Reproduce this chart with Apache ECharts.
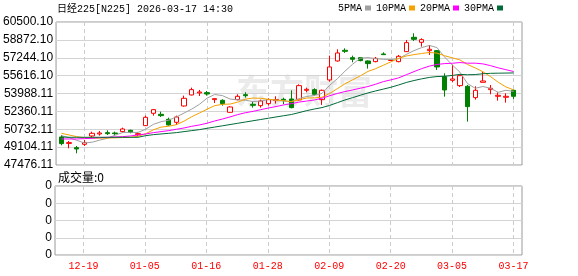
<!DOCTYPE html>
<html><head><meta charset="utf-8">
<script src="https://cdn.jsdelivr.net/npm/echarts@6/dist/echarts.min.js"></script>
<style>html,body{margin:0;padding:0;background:#fff}#c{width:578px;height:276px}</style>
</head><body><div id="c"></div>
<script>
const dates = ['12-16','12-17','12-18','12-19','12-22','12-23','12-24','12-25','12-26','12-29','12-30',
  '01-05','01-06','01-07','01-08','01-09','01-13','01-14','01-15','01-16','01-19','01-20','01-21','01-22','01-23','01-26','01-27','01-28','01-29','01-30',
  '02-02','02-03','02-04','02-05','02-06','02-09','02-10','02-12','02-13','02-16','02-17','02-18','02-19','02-20','02-24','02-25','02-26','02-27',
  '03-02','03-03','03-04','03-05','03-06','03-09','03-10','03-11','03-12','03-13','03-16','03-17'];
const tickLabels = ['12-19','01-05','01-16','01-28','02-09','02-20','03-05','03-17'];
const openV = [50029,49440,49058,49361,50120,50302,50424,50393,50515,50636,50241,51061,52185,52093,51638,51365,52852,53854,54036,54067,
  53430,53369,52276,53430,53885,53004,52883,53065,53338,53460,53490,53399,54279,54340,53430,55221,56951,57923,57255,57255,
  56951,56891,57589,57000,56891,57801,59107,58651,57892,57892,55524,55190,54704,54643,53612,55008,54340,53733,53642,54279];
const closeV = [49422,49513,48937,49513,50363,50393,50332,50332,50758,50454,50332,51820,52519,51972,51122,51851,53551,54340,54127,53945,
  53521,53065,52761,53733,53794,52913,53308,53430,53430,53369,52701,54704,54370,53915,54279,56405,57680,57831,57103,56982,
  56708,57194,57528,57012,57376,58621,58924,58894,58014,56405,54310,55312,55615,52792,54279,55130,54461,53824,53733,53733];
const lowV = [49270,48997,48541,49209,49968,50150,50211,50211,50424,50363,50089,51031,51972,51851,51061,51122,52792,53824,53763,53794,
  53126,52883,52245,53369,53612,52701,52701,52883,53065,53004,52640,53338,54097,53794,52944,55069,56891,57680,56830,56921,
  56253,56830,57498,56960,56830,57771,58773,58256,57498,56131,53702,55008,54583,51425,53430,54978,53915,53338,53156,53490];
const highV = [50211,49665,49209,49756,50515,50575,50636,50515,50879,50697,50484,51972,52579,52336,51790,51972,53794,54522,54310,54219,
  53551,53460,52822,53915,54097,53247,53430,53551,53733,53612,54279,54826,54522,54461,54340,57437,58014,58105,57437,57316,
  57012,57316,57740,57060,57498,58864,59471,59015,58408,57953,55828,56587,55676,54765,54643,55980,54765,54097,54006,54340];
const ma5 = [50150,49968,49725,49482,49550,49744,49908,50187,50436,50454,50442,50739,51177,51419,51553,51857,52203,52567,52998,53563,
  53897,53800,53484,53405,53375,53253,53302,53436,53375,53290,53248,53527,53715,53812,53994,54735,55330,56022,56660,57200,
  57261,57164,57103,57085,57164,57546,57892,58165,58366,58172,57309,56587,55931,54887,54462,54626,54455,54097,54285,54176];
const ma10 = [50363,50211,50059,49960,49930,49920,49930,49950,49975,50002,50093,50323,50682,50928,51003,51149,51471,51872,52209,52558,
  52877,53001,53026,53202,53469,53575,53551,53460,53390,53332,53250,53414,53575,53593,53642,53991,54428,54868,55236,55597,
  55998,56247,56563,56872,57182,57404,57528,57634,57725,57668,57428,57240,57048,56626,56317,55968,55521,55014,54586,54319];
const ma20 = [49847,49847,49847,49877,49908,49968,49999,50029,50059,50120,50211,50302,50424,50515,50606,50727,50849,51000,51122,51280,
  51485,51662,51854,52065,52236,52362,52511,52666,52799,52945,53064,53208,53300,53398,53555,53783,53990,54164,54313,54465,
  54624,54831,55069,55233,55412,55697,55978,56251,56481,56632,56713,56743,56805,56749,56749,56686,56525,56324,56156,55993];
const ma30 = [50029,49999,49999,49999,49999,49999,49999,49999,49999,49999,49999,50150,50241,50302,50363,50424,50515,50606,50697,50818,
  50930,51045,51160,51275,51390,51505,51620,51735,51850,51964,52073,52246,52427,52574,52705,52905,53150,53400,53612,53829,
  54042,54221,54388,54556,54764,54990,55169,55321,55450,55532,55559,55634,55729,55697,55713,55787,55826,55839,55849,55861];
const volume = [0,0,0,0,0,0,0,0,0,0,0,0,0,0,0,0,0,0,0,0,0,0,0,0,0,0,0,0,0,0,
  0,0,0,0,0,0,0,0,0,0,0,0,0,0,0,0,0,0,0,0,0,0,0,0,0,0,0,0,0,0];
const yTickLabels = ['47476.11','49104.11','50732.11','52360.11','53988.11','55616.10','57244.10','58872.10','60500.10'];
const volTickLabels = ['0','0','0','0','0'];
const maNames = ['5PMA','10PMA','20PMA','30PMA'];
const titleText = '日经225[N225] 2026-03-17 14:30';
const volTitle = '成交量:0';
const watermark = '东方财富';

const yTickValues = yTickLabels.map(Number);
const tickIdx = tickLabels.map(d => dates.indexOf(d));
const kData = dates.map((d, i) => [i, openV[i], closeV[i], lowV[i], highV[i]]);
const pair = arr => arr.map((v, i) => [i, v]);

const mono = '"Liberation Mono","DejaVu Sans Mono","Noto Sans CJK SC",monospace';
const sans = '"Liberation Sans","Noto Sans CJK SC",sans-serif';
const maColors = ['#a0a0a0', '#f5a100', '#ff00ff', '#006b38'];

function xAxisCfg(gridIndex, showLabel) {
  return {
    type: 'value', gridIndex, min: -0.7, max: 60.1,
    axisLine: { show: false },
    axisTick: { show: false, customValues: tickIdx },
    axisLabel: { show: showLabel, customValues: tickIdx, formatter: v => dates[v] || '',
      color: '#ff0000', fontFamily: mono, fontSize: 10, margin: 6 },
    splitLine: { show: true, lineStyle: { color: '#cccccc', type: [4, 3], width: 1 } }
  };
}

const chart = echarts.init(document.getElementById('c'), null, { renderer: 'canvas' });
chart.setOption({
  animation: false,
  backgroundColor: '#fff',
  title: [
    { text: titleText, left: 57, top: 4, padding: 0,
      textStyle: { fontFamily: mono, fontSize: 10, fontWeight: 'normal', color: '#000' } },
    { text: volTitle, left: 58, top: 171, padding: 0,
      textStyle: { fontFamily: '"Noto Sans CJK SC",sans-serif', fontSize: 12, fontWeight: 'normal', color: '#000' } }
  ],
  legend: {
    data: maNames, left: 338, top: 3, padding: 0, align: 'right', icon: 'rect',
    itemWidth: 6, itemHeight: 5, itemGap: 5,
    textStyle: { fontFamily: mono, fontSize: 10, color: '#000', padding: [0, -2, 0, 0] }
  },
  graphic: [{
    type: 'text', left: 236, top: 74, z: 1, silent: true,
    style: { text: watermark, font: 'bold 34px "Noto Sans CJK SC"', fill: 'rgba(210,210,210,0.45)' }
  }],
  grid: [
    { left: 55, right: 56, top: 22, height: 143, show: true, borderColor: '#999', borderWidth: 1 },
    { left: 55, right: 56, top: 186, height: 69, show: true, borderColor: '#999', borderWidth: 1 }
  ],
  xAxis: [xAxisCfg(0, false), xAxisCfg(1, true)],
  yAxis: [
    { type: 'value', gridIndex: 0, min: yTickValues[0], max: yTickValues[yTickValues.length - 1],
      axisLine: { show: false },
      axisTick: { show: false, customValues: yTickValues },
      axisLabel: { customValues: yTickValues, margin: 3, fontFamily: sans, fontSize: 12, color: '#000',
        formatter: v => { let b = 0; yTickValues.forEach((t, k) => { if (Math.abs(t - v) < Math.abs(yTickValues[b] - v)) b = k; }); return yTickLabels[b]; } },
      splitLine: { show: true, lineStyle: { color: '#d4d4d4', width: 1 } } },
    { type: 'value', gridIndex: 1, min: 0, max: volTickLabels.length - 1, interval: 1,
      axisLine: { show: false }, axisTick: { show: false },
      axisLabel: { margin: 3, fontFamily: sans, fontSize: 12, color: '#000', formatter: v => volTickLabels[v] },
      splitLine: { show: true, lineStyle: { color: '#d4d4d4', width: 1 } } }
  ],
  series: [
    { type: 'candlestick', name: 'K', xAxisIndex: 0, yAxisIndex: 0, data: kData,
      encode: { x: 0, y: [1, 2, 3, 4] }, barWidth: 5,
      itemStyle: { color: '#ffffff', color0: '#008000', borderColor: '#ff0000', borderColor0: '#008000', borderWidth: 1 } },
    ...[ma5, ma10, ma20, ma30].map((arr, k) => ({
      type: 'line', name: maNames[k], xAxisIndex: 0, yAxisIndex: 0, data: pair(arr),
      symbol: 'none', lineStyle: { width: 1, color: maColors[k] }, itemStyle: { color: maColors[k] }
    })),
    { type: 'bar', name: 'VOL', xAxisIndex: 1, yAxisIndex: 1, data: pair(volume), barWidth: 5, itemStyle: { color: '#999' } }
  ]
});
</script></body></html>
